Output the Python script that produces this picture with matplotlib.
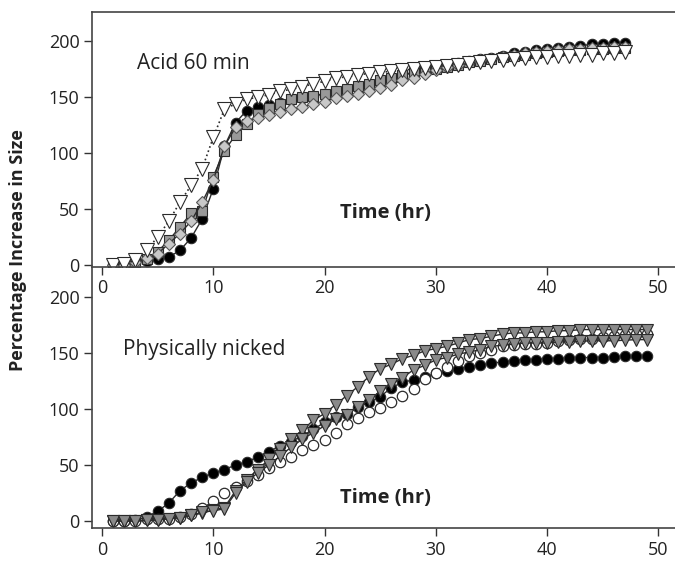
import numpy as np
import matplotlib
matplotlib.use("Agg")
import matplotlib.pyplot as plt

plt.rcParams['font.family'] = ['Open Sans', 'DejaVu Sans']

# ---- top panel: acid 60 min, hours 1..47
hrs_top = np.arange(1, 48)
acid_circle = [0, 0.5, 2, 3.5, 5, 7, 13, 24, 41, 68, 106, 127, 138, 141, 143, 145, 147, 149,
               151, 153, 155, 157, 159, 161, 163, 166, 169, 172, 174, 176, 178, 180, 182, 184,
               185, 187, 189, 190, 192, 193, 194, 195, 196, 197, 197, 198, 198]
acid_square = [0, 1, 3, 5, 12, 22, 34, 46, 48, 79, 102, 116, 126, 135, 140, 144, 148, 150,
               151, 153, 155, 157, 160, 162, 165, 167, 170, 172, 174, 175, 177, 179, 181, 182,
               184, 186, 187, 188, 189, 190, 191, 192, 192, 193, 193, 194, 194]
acid_diamond = [0, 0, 3, 6, 10, 19, 28, 39, 56, 76, 106, 123, 129, 131, 134, 137, 139, 141,
                144, 146, 149, 151, 153, 155, 158, 161, 165, 167, 171, 174, 177, 179, 181, 183,
                184, 186, 188, 189, 190, 191, 192, 193, 193, 194, 194, 195, 195]
acid_triangle = [0, 1, 4, 13, 25, 39, 56, 71, 86, 114, 139, 144, 148, 150, 152, 155, 157, 159,
                 162, 164, 167, 168, 170, 171, 172, 173, 174, 175, 176, 177, 178, 179, 180, 181,
                 182, 183, 184, 185, 186, 186, 187, 187, 188, 188, 189, 189, 190]

# ---- bottom panel: physically nicked, hours 1..49
hrs_bot = np.arange(1, 50)
nick_black = [0, 0, 0.6, 3.6, 8.7, 16, 27, 34, 39, 43, 46, 50, 53, 57, 62, 67, 71, 76, 82, 88,
              93, 96, 102, 106, 111, 119, 124, 126, 128.5, 132, 134, 136, 138, 139, 141, 142,
              143, 144, 144, 145, 145, 145.5, 146, 146, 146, 146.5, 147, 147, 147]
nick_open = [0, 0, 0, 1.5, 1.5, 2, 4, 6, 12, 18, 25, 30, 36, 41, 47, 53, 57, 63, 68, 72, 79,
             87, 92, 97, 101, 106, 112, 118, 127, 132, 138, 143, 147, 150, 153, 156, 157, 158,
             158.5, 159, 160.5, 162, 163, 163, 164, 165, 166, 167, 167]
nick_tri_up = [0, 0, 0, 0.5, 1, 2, 3, 5, 7, 10, 12, 27, 37, 46, 55, 64, 73, 81, 90, 96, 104,
               112, 120, 129, 136, 140, 145, 148, 152, 154, 156, 159, 162, 163, 165, 167, 168,
               168, 169, 169, 170, 170, 171, 171, 171, 171, 171, 171, 171]
nick_tri_low = [0, 0, 0, 0.5, 1, 2, 3, 5, 8, 9, 11, 25, 35, 43, 50, 58, 66, 73, 79, 85, 91,
                95, 102, 108, 116, 122, 128, 135, 139, 144, 146, 149, 151, 153, 156, 157, 158,
                159, 159, 159, 160, 160, 160.5, 161, 161, 161, 161.5, 162, 162]

edge = '#2b2b2b'
fig = plt.figure(figsize=(6.75, 5.61), dpi=100)
ax2 = fig.add_axes([0.1363, 0.0588, 0.8637, 0.4635])
ax1 = fig.add_axes([0.1363, 0.5241, 0.8637, 0.4545])

# top panel
ax1.plot(hrs_top, acid_circle, '-', color=edge, lw=1, marker='o', ms=7.5,
         mfc='black', mec=edge, mew=0.8)
ax1.plot(hrs_top, acid_square, '-', color=edge, lw=1, marker='s', ms=7,
         mfc='#999999', mec=edge, mew=0.8)
ax1.plot(hrs_top, acid_diamond, '-', color=edge, lw=1, marker='D', ms=6.5,
         mfc='#c8c8c8', mec='#555555', mew=0.8)
ax1.plot(hrs_top, acid_triangle, ':', color=edge, lw=1.2, marker='v', ms=9.5,
         mfc='white', mec=edge, mew=0.8)
ax1.set_ylim(-1.8, 226)
ax1.text(3.1, 180, 'Acid 60 min', fontsize=15, va='center', color='#222222')
ax1.text(25.5, 46, 'Time (hr)', fontsize=14.5, fontweight='bold', ha='center', va='center',
         color='#222222')
ax1.spines['right'].set_visible(False)

# bottom panel
ax2.plot(hrs_bot, nick_black, '-', color=edge, lw=1, marker='o', ms=7.5,
         mfc='black', mec=edge, mew=0.8)
ax2.plot(hrs_bot, nick_open, 'none', marker='o', ms=7.5, mfc='white', mec=edge, mew=0.9)
ax2.plot(hrs_bot, nick_tri_up, '-', color=edge, lw=1, marker='v', ms=9,
         mfc='#8a8a8a', mec=edge, mew=0.8)
ax2.plot(hrs_bot, nick_tri_low, '-', color=edge, lw=1, marker='v', ms=9,
         mfc='#8a8a8a', mec=edge, mew=0.8)
ax2.set_ylim(-6.25, 226)
ax2.text(1.9, 153, 'Physically nicked', fontsize=15, va='center', color='#222222')
ax2.text(25.5, 21, 'Time (hr)', fontsize=14.5, fontweight='bold', ha='center', va='center',
         color='#222222')
ax2.spines['right'].set_visible(False)
ax2.spines['top'].set_visible(False)
ax2.patch.set_visible(False)

for ax in (ax1, ax2):
    ax.set_xlim(-0.9, 51.5)
    ax.set_xticks([0, 10, 20, 30, 40, 50])
    ax.set_yticks([0, 50, 100, 150, 200])
    ax.tick_params(direction='out', length=6, width=1, labelsize=13, colors='#333333',
                   labelcolor='#222222', pad=3)
    for s in ax.spines.values():
        s.set_color('#444444')
        s.set_linewidth(1.2)

fig.text(0.027, 0.555, 'Percentage Increase in Size', rotation=90, fontsize=13,
         fontweight='bold', ha='center', va='center', color='#222222')

fig.savefig('out.png', dpi=100)
